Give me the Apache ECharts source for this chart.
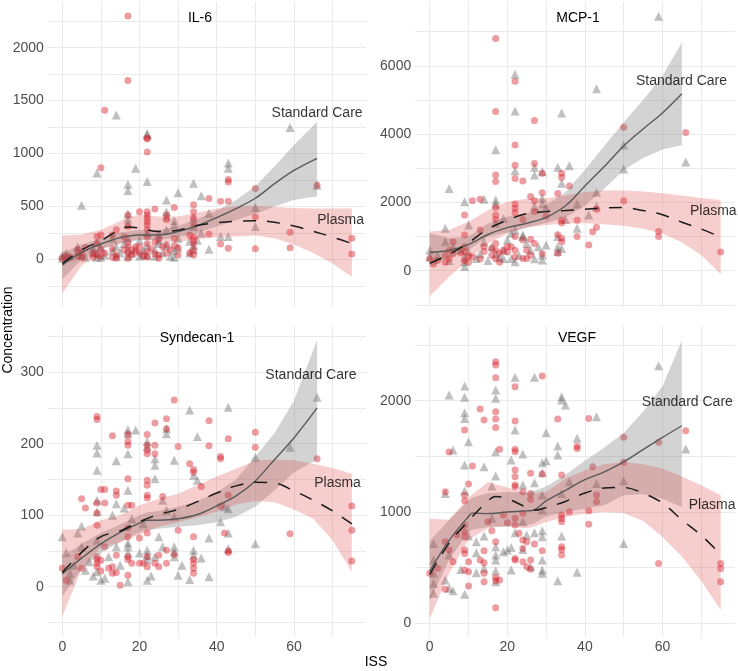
<!DOCTYPE html>
<html><head><meta charset="utf-8">
<script src="https://cdn.jsdelivr.net/npm/echarts@6/dist/echarts.min.js"></script>
<style>html,body{margin:0;padding:0;background:#fff}#c{width:738px;height:671px}</style>
</head><body><div id="c"></div>
<script>
// ---------------- DATA ----------------
const panelNames = ['IL-6', 'MCP-1', 'Syndecan-1', 'VEGF'];
const xTickLabels = [0, 20, 40, 60];
const xGridValues = [0, 10, 20, 30, 40, 50, 60, 70];
const yTickLabels = [[0, 500, 1000, 1500, 2000], [0, 2000, 4000, 6000], [0, 100, 200, 300], [0, 1000, 2000]];
const yGridValues = [
  [-250, 0, 250, 500, 750, 1000, 1250, 1500, 1750, 2000, 2250],
  [-1000, 0, 1000, 2000, 3000, 4000, 5000, 6000, 7000],
  [-50, 0, 50, 100, 150, 200, 250, 300, 350],
  [0, 500, 1000, 1500, 2000, 2500]
];

// IL-6
const il6Plasma = [[17,2300],[17,1690],[11,1410],[10,865],[22,1145],[22,1140],[22,1015],[20,450],[22,450],[22,420],[22,390],[22,355],[22,325],[22,280],[22,215],[24,475],[27,420],[27,375],[29,490],[34,515],[34,450],[34,390],[34,325],[34,210],[34,150],[34,90],[34,40],[38,575],[38,240],[41,550],[41,145],[43,755],[43,730],[43,550],[43,105],[50,670],[50,400],[50,100],[59,255],[59,110],[66,700],[75,200],[75,50],
  [0,10],[1,30],[2,20],[4,30],[4,90],[5,20],[5,60],[6,110],[8,20],[8,60],[9,40],[9,150],[9,215],[10,90],[10,230],[10,30],[11,60],[13,230],[13,20],[13,100],[14,280],[14,40],[14,10],[16,90],[16,210],[17,420],[17,310],[17,160],[17,120],[17,60],[17,10],[18,90],[18,40],[19,70],[19,120],[20,120],[20,60],[21,30],[22,70],[22,20],[22,150],[23,100],[24,160],[24,50],[25,40],[25,10],[25,190],[26,120],[27,140],[27,60],[28,90],[29,200],[29,130],[30,40],[30,110],[33,60],[33,230],[34,180]];
const il6Standard = [[14,1365],[5,510],[9,815],[19,860],[22,1190],[22,1175],[22,735],[17,710],[17,650],[17,430],[17,380],[17,335],[27,560],[27,450],[27,405],[30,630],[34,720],[36,600],[43,910],[43,860],[59,1245],[50,490],[50,310],[41,215],[43,215],[38,95],[38,435],[66,700],[29,365],[29,325],[30,200],[34,390],[34,310],[25,185],[25,150],
  [0,10],[0,40],[1,60],[1,20],[2,30],[4,120],[4,80],[5,40],[6,20],[8,60],[8,100],[9,20],[9,160],[9,60],[10,20],[10,110],[11,40],[13,80],[13,200],[14,30],[14,120],[15,60],[16,150],[17,30],[17,90],[17,200],[18,60],[19,100],[20,30],[20,180],[21,90],[21,50],[22,130],[22,40],[22,250],[24,90],[24,30],[25,240],[26,60],[27,280],[27,130],[28,30],[29,80],[29,20],[30,110],[33,170],[33,60],[34,130],[34,90],[36,250],[35,180]];
const il6ScX   = [0, 5, 10, 15, 20, 25, 30, 35, 40, 45, 50, 55, 60, 66];
const il6ScFit = [-55, 65, 145, 205, 230, 230, 262, 320, 395, 480, 577, 715, 840, 955];
const il6ScLo  = [-190, -5, 95, 150, 183, 183, 208, 250, 310, 370, 430, 500, 560, 595];
const il6ScHi  = [60, 140, 200, 255, 278, 278, 316, 380, 460, 560, 690, 880, 1080, 1300];
const il6PlX   = [0, 5, 10, 15, 17, 20, 25, 30, 35, 40, 45, 50, 55, 60, 65, 70, 75];
const il6PlFit = [-40, 90, 175, 285, 305, 295, 262, 275, 320, 345, 360, 365, 350, 315, 265, 210, 150];
const il6PlLo  = [-320, -60, 100, 150, 170, 190, 170, 167, 190, 208, 215, 225, 200, 140, 60, -40, -165];
const il6PlHi  = [225, 235, 280, 360, 400, 420, 405, 405, 440, 480, 500, 505, 495, 485, 480, 480, 480];
const il6Notes = [[66, 1383, 'Standard Care'], [72.1, 371, 'Plasma']];

// MCP-1
const mcpPlasma = [[17,6800],[17,4660],[22,5550],[22,3680],[22,3090],[22,2700],[27,4400],[27,3140],[17,2800],[17,2610],[24,2630],[29,2850],[29,2280],[34,2850],[34,2730],[36,2480],[33,2260],[26,2170],[27,2050],[11,2050],[13,2090],[9,1630],[17,1850],[17,1630],[22,1950],[22,1830],[22,1700],[27,1730],[24,1500],[17,1500],[13,1190],[9,1045],[6,850],[9,700],[9,560],[10,420],[14,560],[16,650],[17,600],[18,510],[20,700],[22,600],[24,360],[25,360],[26,920],[34,1480],[34,1400],[34,950],[34,850],[33,510],[38,1480],[38,1000],[42,1140],[41,750],[43,1270],[43,1800],[50,4200],[50,2050],[66,4050],[59,1150],[59,1000],[75,550],
  [0,350],[1,200],[2,300],[4,450],[4,250],[5,600],[5,350],[6,500],[8,520],[9,300],[10,250],[11,400],[13,350],[14,700],[16,450],[17,350],[17,800],[18,250],[19,600],[20,550],[21,700],[22,400],[22,1000],[24,900],[25,600],[26,450],[27,800],[29,500],[30,1600],[33,1050]];
const mcpStandard = [[59,7450],[22,5750],[22,4680],[43,5330],[34,4620],[17,3540],[22,2930],[27,3030],[27,2800],[29,2900],[33,3030],[36,3070],[34,2560],[50,3680],[50,2980],[66,3180],[43,2300],[43,1890],[38,1950],[38,1240],[41,1630],[5,2410],[9,2020],[4,1240],[14,2090],[17,2070],[17,1950],[10,1340],[19,1530],[22,1190],[24,1045],[27,1890],[29,2120],[29,1970],[30,1850],[17,1390],[33,1000],[33,700],[33,560],
  [0,600],[0,410],[4,850],[5,300],[9,410],[9,260],[9,120],[12,360],[14,850],[19,600],[19,360],[21,360],[22,264],[24,1000],[25,800],[29,460],[29,310],[13,500],[16,700],[17,500],[20,900],[26,600],[28,700],[8,600],[2,450],[6,700],[10,550],[15,300],[18,400],[21,1100],[23,450],[27,350],[30,750],[34,650],[35,1500]];
const mcpScX   = [0, 5, 10, 15, 20, 25, 30, 35, 40, 45, 50, 55, 60, 65];
const mcpScFit = [540, 590, 770, 1060, 1260, 1390, 1560, 1900, 2480, 3050, 3650, 4150, 4620, 5180];
const mcpScLo  = [100, 400, 600, 1000, 1110, 1260, 1400, 1560, 1900, 2400, 2950, 3300, 3550, 3670];
const mcpScHi  = [1100, 950, 1000, 1380, 1580, 1680, 1920, 2300, 2950, 3650, 4350, 5000, 5700, 6680];
const mcpPlX   = [0, 5, 10, 15, 20, 25, 30, 35, 40, 45, 50, 55, 60, 65, 70, 75];
const mcpPlFit = [215, 480, 820, 1220, 1480, 1670, 1730, 1760, 1800, 1840, 1850, 1760, 1640, 1420, 1220, 980];
const mcpPlLo  = [-750, -180, 310, 800, 1090, 1270, 1340, 1380, 1390, 1360, 1320, 1230, 1090, 830, 450, -100];
const mcpPlHi  = [1150, 1190, 1430, 1770, 2020, 2110, 2120, 2210, 2300, 2350, 2350, 2320, 2270, 2200, 2130, 2070];
const mcpNotes = [[64.9, 5555, 'Standard Care'], [73.1, 1748, 'Plasma']];

// Syndecan-1
const synPlasma = [[9,238],[9,234],[13,211],[17,213],[17,203],[17,198],[22,213],[24,229],[27,235],[27,221],[29,261],[22,198],[22,191],[22,186],[24,198],[24,186],[30,196],[17,151],[10,136],[11,136],[9,117],[6,110],[5,123],[22,149],[22,142],[14,134],[14,128],[17,114],[18,114],[11,117],[22,128],[22,124],[26,126],[34,164],[34,160],[33,172],[38,232],[38,197],[41,182],[41,179],[43,207],[36,140],[43,48],[43,50],[34,38],[34,33],[34,26],[34,19],[34,70],[42,75],[41,113],[50,216],[50,195],[59,74],[66,179],[75,113],[75,79],[75,36],[43,128],
  [0,26],[1,9],[4,42],[5,26],[9,42],[9,38],[9,33],[9,28],[10,22],[10,37],[9,86],[9,103],[11,56],[13,28],[14,44],[15,2],[17,42],[17,38],[17,70],[18,33],[20,33],[21,33],[22,42],[22,28],[24,33],[25,28],[25,44],[27,33],[22,75],[30,79],[17,82],[13,19],[17,16],[27,51],[29,45],[20,68],[12,26],[14,20]];
const synStandard = [[9,198],[9,187],[9,163],[14,176],[17,220],[17,214],[19,219],[17,186],[22,203],[22,196],[24,179],[24,170],[27,221],[27,214],[29,177],[33,247],[35,210],[43,251],[9,121],[14,116],[17,135],[24,151],[26,121],[34,156],[35,149],[38,68],[42,112],[43,75],[29,98],[27,107],[0,70],[4,75],[1,48],[5,56],[9,65],[6,23],[12,42],[14,56],[17,61],[17,56],[17,47],[20,47],[22,51],[22,44],[22,38],[24,42],[26,56],[29,56],[29,49],[29,42],[34,51],[34,44],[38,14],[23,15],[17,7],[9,21],[10,9],[2,19],[2,9],[22,9],[30,16],[50,181],[50,60],[59,195],[66,265],[43,109],[43,53],[41,91],[5,85],[9,105],[13,100],[16,110],[18,95],[21,88],[25,70],[31,30],[33,10],[36,40],[15,30],[11,12],[8,15],[7,35],[3,30]];
const synScX   = [0, 5, 10, 15, 20, 22, 25, 30, 35, 40, 45, 50, 55, 60, 66];
const synScFit = [18, 40, 60, 76, 89, 93, 93, 95, 101, 113, 127, 148, 178, 208, 250];
const synScLo  = [-14, 24, 47, 63, 76, 79, 81, 84, 86, 90, 98, 112, 135, 160, 178];
const synScHi  = [42, 60, 75, 87, 100, 104, 106, 112, 120, 132, 150, 182, 215, 260, 345];
const synPlX   = [0, 5, 10, 15, 20, 25, 30, 35, 40, 45, 50, 55, 60, 65, 70, 75];
const synPlFit = [20, 48, 70, 78, 91, 101, 108, 119, 131, 141, 146, 145, 134, 121, 106, 88];
const synPlLo  = [-42, 25, 55, 62, 73, 84, 90, 97, 105, 115, 120, 118, 108, 95, 65, 21];
const synPlHi  = [80, 80, 93, 100, 114, 123, 130, 142, 154, 165, 176, 178, 177, 172, 166, 158];
const synNotes = [[64.4, 296, 'Standard Care'], [71.3, 145, 'Plasma']];

// VEGF
const vegfPlasma = [[17,2350],[17,2320],[17,2206],[22,2126],[29,2222],[13,1926],[14,1826],[17,1901],[17,1835],[17,1760],[22,1817],[9,1737],[22,1563],[22,1542],[18,1563],[5,1539],[11,1413],[22,1377],[22,1317],[22,1242],[22,1227],[10,1251],[26,1347],[34,1332],[33,1835],[41,1841],[38,1590],[38,1570],[42,1407],[43,1152],[43,1092],[41,1011],[41,889],[36,1002],[34,972],[34,942],[34,912],[34,688],[34,664],[34,613],[29,1341],[26,1167],[26,1113],[24,1182],[24,988],[20,904],[19,973],[22,943],[22,883],[23,808],[24,748],[25,733],[24,673],[27,712],[29,652],[26,568],[24,553],[25,509],[26,485],[22,583],[22,569],[17,733],[16,832],[17,412],[18,389],[17,383],[17,140],[14,652],[13,568],[14,544],[14,449],[14,374],[9,883],[9,823],[9,778],[9,658],[9,628],[10,553],[9,478],[10,464],[10,335],[7,793],[6,553],[5,658],[4,1182],[4,733],[4,305],[2,494],[0,449],[15,913],[50,1672],[50,1448],[59,1627],[59,537],[66,1731],[75,537],[75,493],[75,373],[9,1100],[9,1150]];
const vegfStandard = [[22,2210],[27,2210],[34,2036],[34,2006],[35,1961],[5,2051],[9,2132],[9,2030],[9,1892],[9,1841],[10,1632],[6,1557],[17,2096],[17,2021],[17,1542],[22,1737],[30,1713],[43,1856],[38,1662],[33,1593],[33,1512],[30,1461],[29,1443],[24,1521],[21,1467],[9,1422],[14,1407],[17,1323],[16,1233],[9,1191],[4,1167],[29,1353],[27,1263],[24,1242],[29,1152],[34,1167],[36,1272],[29,1017],[16,943],[24,913],[22,814],[25,793],[27,814],[29,832],[29,778],[34,784],[14,784],[12,733],[10,784],[17,688],[19,643],[20,658],[21,682],[24,664],[17,613],[17,568],[12,634],[29,568],[29,478],[29,449],[26,509],[21,478],[17,472],[14,494],[12,455],[8,484],[5,613],[4,389],[5,314],[6,293],[1,718],[1,568],[1,449],[1,359],[1,269],[9,260],[17,374],[33,383],[38,458],[43,1257],[59,2313],[66,1567],[50,1280],[50,716]];
const vegfScX   = [0, 5, 10, 11, 15, 20, 25, 27, 30, 35, 40, 45, 50, 55, 60, 65];
const vegfScFit = [470, 745, 960, 990, 985, 1000, 1010, 1020, 1100, 1195, 1290, 1360, 1450, 1560, 1670, 1775];
const vegfScLo  = [200, 570, 820, 840, 865, 870, 880, 900, 960, 1000, 1030, 1060, 1150, 1160, 1120, 1045];
const vegfScHi  = [740, 930, 1100, 1130, 1170, 1180, 1175, 1190, 1230, 1335, 1460, 1580, 1710, 1900, 2130, 2540];
const vegfPlX   = [0, 5, 10, 15, 17, 20, 25, 27, 30, 35, 40, 45, 50, 55, 60, 65, 70, 75];
const vegfPlFit = [440, 720, 920, 1100, 1140, 1120, 1040, 1015, 1040, 1095, 1170, 1215, 1220, 1170, 1080, 930, 790, 620];
const vegfPlLo  = [40, 450, 750, 855, 865, 870, 855, 870, 910, 955, 985, 1000, 990, 920, 776, 600, 380, 120];
const vegfPlHi  = [940, 930, 1130, 1270, 1250, 1220, 1170, 1170, 1180, 1300, 1375, 1430, 1450, 1430, 1390, 1320, 1240, 1150];
const vegfNotes = [[66.4, 1988, 'Standard Care'], [72.8, 1063, 'Plasma']];

// ---------------- BUILD ----------------
const FONT = '"Liberation Sans", Arial, Helvetica, sans-serif';
const panels = [
  {pl: il6Plasma, sc: il6Standard, scX: il6ScX, scFit: il6ScFit, scLo: il6ScLo, scHi: il6ScHi, plX: il6PlX, plFit: il6PlFit, plLo: il6PlLo, plHi: il6PlHi, notes: il6Notes, yr: [-460, 2432]},
  {pl: mcpPlasma, sc: mcpStandard, scX: mcpScX, scFit: mcpScFit, scLo: mcpScLo, scHi: mcpScHi, plX: mcpPlX, plFit: mcpPlFit, plLo: mcpPlLo, plHi: mcpPlHi, notes: mcpNotes, yr: [-1092, 7868]},
  {pl: synPlasma, sc: synStandard, scX: synScX, scFit: synScFit, scLo: synScLo, scHi: synScHi, plX: synPlX, plFit: synPlFit, plLo: synPlLo, plHi: synPlHi, notes: synNotes, yr: [-70.3, 364.6]},
  {pl: vegfPlasma, sc: vegfStandard, scX: vegfScX, scFit: vegfScFit, scLo: vegfScLo, scHi: vegfScHi, plX: vegfPlX, plFit: vegfPlFit, plLo: vegfPlLo, plHi: vegfPlHi, notes: vegfNotes, yr: [-123, 2671]}
];
const gridBoxes = [
  {left: 47.8, top: 2, width: 318.5, height: 306},
  {left: 415.2, top: 2, width: 320, height: 306},
  {left: 47.8, top: 326, width: 318.5, height: 311},
  {left: 415.2, top: 326, width: 320, height: 311}
];
const titlePos = [[200, 18], [578, 18], [197, 338], [577, 338]];

function bandSeries(gi, xs, lo, hi, color) {
  const rows = xs.map((x, i) => [x, lo[i], hi[i]]);
  return {
    type: 'custom', xAxisIndex: gi, yAxisIndex: gi, data: rows, silent: true, z: 3,
    encode: {x: 0, y: [1, 2]},
    renderItem: function (params, api) {
      if (params.dataIndex !== 0) return null;
      const top = rows.map(r => api.coord([r[0], r[2]]));
      const bot = rows.map(r => api.coord([r[0], r[1]])).reverse();
      return {type: 'polygon', shape: {points: top.concat(bot)}, style: {fill: color}};
    }
  };
}

const grid = [], xAxis = [], yAxis = [], series = [], graphic = [];
panels.forEach((p, gi) => {
  grid.push(Object.assign({outerBoundsMode: 'none', containLabel: false}, gridBoxes[gi]));
  xAxis.push({
    type: 'value', gridIndex: gi, min: -3.75, max: 78.75,
    axisLine: {show: false}, axisTick: {show: false, customValues: xGridValues},
    axisLabel: {show: gi >= 2, customValues: xTickLabels, formatter: v => String(v), color: '#4d4d4d', fontSize: 14, fontFamily: FONT, margin: 3},
    splitLine: {show: true, lineStyle: {color: '#ebebeb', width: 1}}
  });
  yAxis.push({
    type: 'value', gridIndex: gi, min: p.yr[0], max: p.yr[1],
    axisLine: {show: false}, axisTick: {show: false, customValues: yGridValues[gi]},
    axisLabel: {show: true, customValues: yTickLabels[gi], formatter: v => String(v), color: '#4d4d4d', fontSize: 14, fontFamily: FONT, margin: 4},
    splitLine: {show: true, lineStyle: {color: '#ebebeb', width: 1}}
  });
  series.push({
    type: 'scatter', xAxisIndex: gi, yAxisIndex: gi, data: p.sc, symbol: 'triangle', symbolSize: 9,
    itemStyle: {color: 'rgba(80,80,80,0.45)'}, z: 2, silent: true
  });
  series.push({
    type: 'scatter', xAxisIndex: gi, yAxisIndex: gi, data: p.pl, symbol: 'circle', symbolSize: 7,
    itemStyle: {color: 'rgba(214,30,42,0.55)'}, z: 2, silent: true
  });
  series.push(bandSeries(gi, p.scX, p.scLo, p.scHi, 'rgba(110,110,110,0.30)'));
  series.push(bandSeries(gi, p.plX, p.plLo, p.plHi, 'rgba(222,60,60,0.25)'));
  series.push({
    type: 'line', xAxisIndex: gi, yAxisIndex: gi, data: p.scX.map((x, i) => [x, p.scFit[i]]),
    smooth: 0.35, showSymbol: false, silent: true, z: 4,
    lineStyle: {color: '#5a5a5a', width: 1.4}
  });
  series.push({
    type: 'line', xAxisIndex: gi, yAxisIndex: gi, data: p.plX.map((x, i) => [x, p.plFit[i]]),
    smooth: 0.35, showSymbol: false, silent: true, z: 4,
    lineStyle: {color: '#1a1a1a', width: 1.5, type: [13, 11]}
  });
  series.push({
    type: 'scatter', xAxisIndex: gi, yAxisIndex: gi, symbolSize: 0, silent: true, z: 5,
    data: p.notes.map(n => ({value: [n[0], n[1]], name: n[2]})),
    label: {show: true, position: 'inside', formatter: '{b}', color: '#000', fontSize: 14, fontFamily: FONT}
  });
  graphic.push({type: 'text', x: titlePos[gi][0], y: titlePos[gi][1], z: 10,
    style: {text: panelNames[gi], fill: '#000', font: '14px ' + FONT, textAlign: 'center', textVerticalAlign: 'middle'}});
});
graphic.push({type: 'text', x: 376, y: 662, style: {text: 'ISS', fill: '#000', font: '14px ' + FONT, textAlign: 'center', textVerticalAlign: 'middle'}});
graphic.push({type: 'text', x: 8, y: 330, rotation: Math.PI / 2, style: {text: 'Concentration', fill: '#000', font: '14px ' + FONT, textAlign: 'center', textVerticalAlign: 'middle'}});

const chart = echarts.init(document.getElementById('c'), null, {renderer: 'canvas'});
chart.setOption({animation: false, backgroundColor: '#fff', grid, xAxis, yAxis, series, graphic});
</script></body></html>
